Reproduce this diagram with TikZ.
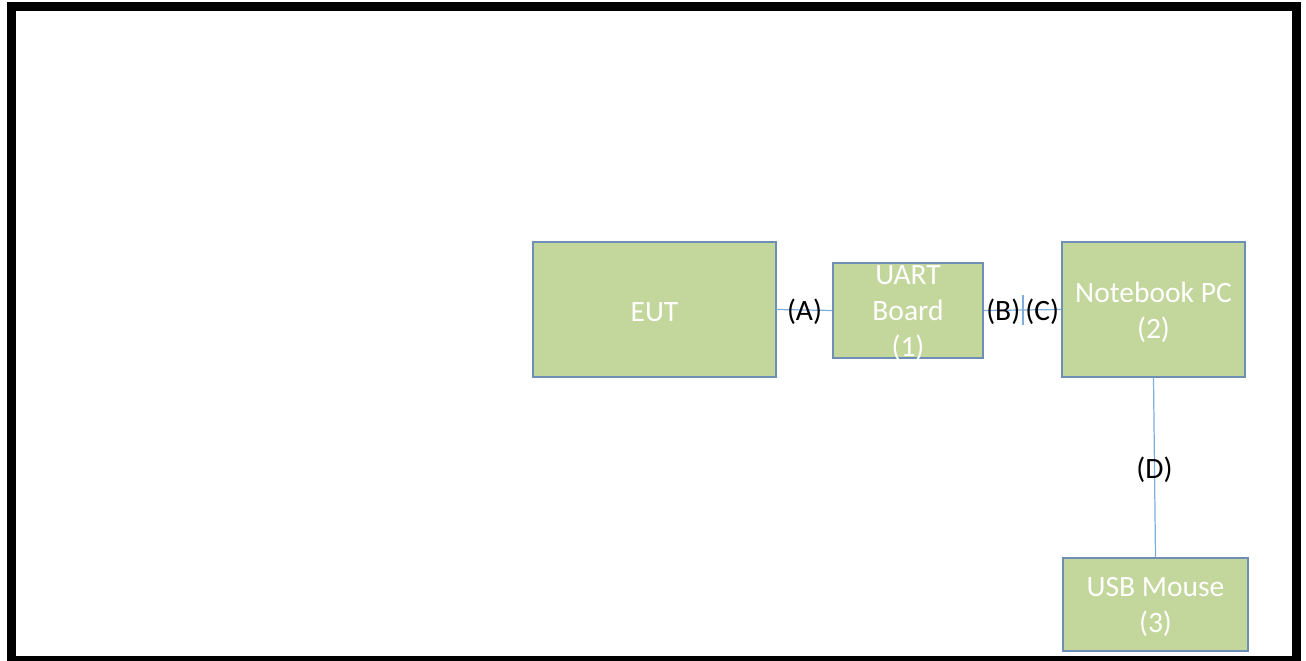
\documentclass[tikz,border=0pt]{standalone}
\usepackage{fontspec}
\setmainfont{Carlito}
\definecolor{boxfill}{HTML}{C3D69B}
\definecolor{boxline}{HTML}{6E8FB5}
\definecolor{wire}{HTML}{7FAEDB}
\begin{document}
\begin{tikzpicture}[x=0.02cm,y=-0.02cm,
    unitbox/.style={draw=boxline,fill=boxfill,line width=0.6pt,inner sep=0pt},
    boxtext/.style={text=white,align=center,font=\fontsize{16.8}{20.4}\selectfont,inner sep=0pt,yshift=-0.05cm},
    link/.style={draw=wire,line width=0.7pt},
    tag/.style={text=black,font=\fontsize{16.8}{20.4}\selectfont,inner sep=0pt,yshift=-0.04cm}]
    \useasboundingbox (0,0) rectangle (1306,661);
    \draw[line width=5.1pt] (11.5,6.5) rectangle (1296.5,660.5);
    \node[unitbox,minimum width=243*0.02cm,minimum height=135*0.02cm,label={[boxtext]center:EUT}] (eut) at (654.5,309.5) {};
    \node[unitbox,minimum width=150*0.02cm,minimum height=95*0.02cm,label={[boxtext]center:UART\\Board\\(1)}] (uart) at (908,310.5) {};
    \node[unitbox,minimum width=183*0.02cm,minimum height=135*0.02cm,label={[boxtext]center:Notebook PC\\(2)}] (nb) at (1153.5,309.5) {};
    \node[unitbox,minimum width=185*0.02cm,minimum height=93*0.02cm,label={[boxtext]center:USB Mouse\\(3)}] (mouse) at (1155.5,604.5) {};
    \coordinate (bc) at (1023,310);
    \draw[link] (eut.east) -- node[tag]{(A)} (uart.west);
    \draw[link] (uart.east) -- node[tag]{(B)} (bc) -- node[tag]{(C)} (nb.west);
    \draw[link] ([yshift=15*0.02cm]bc) -- ([yshift=-15*0.02cm]bc);
    \draw[link] (nb.south) -- node[tag]{(D)} (mouse.north);
\end{tikzpicture}
\end{document}
